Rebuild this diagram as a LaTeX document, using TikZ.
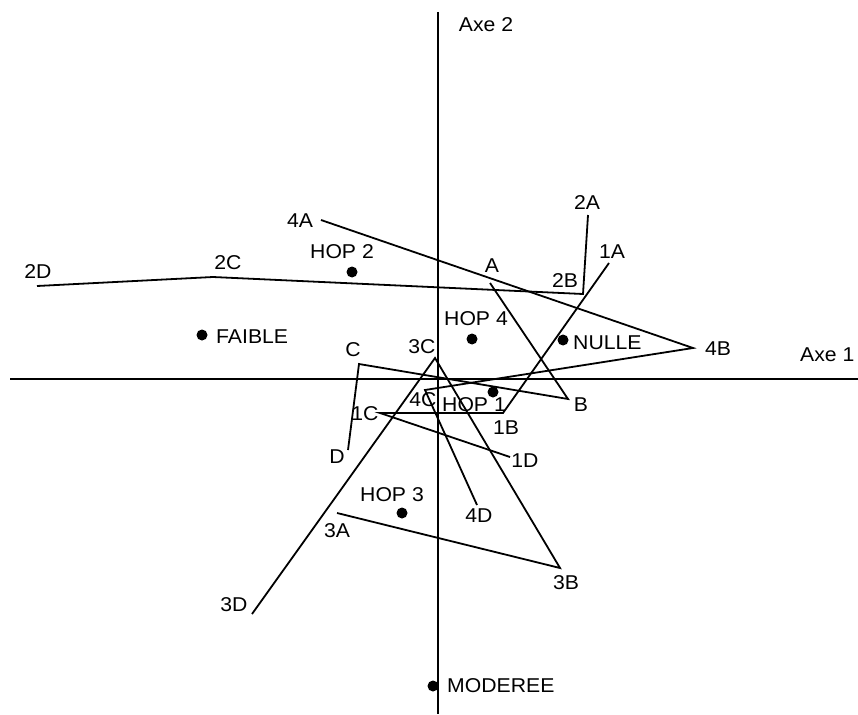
\documentclass[tikz,border=0pt]{standalone}
\usepackage{fontspec}
\setmainfont[FakeStretch=1.06]{Liberation Sans}
\begin{document}
\begin{tikzpicture}[x=1pt,y=-1pt,
  lbl/.style={inner sep=0pt,font=\fontsize{20}{22}\selectfont},
  ln/.style={line width=1.8pt,line join=miter},
  ax/.style={line width=2pt},
  dotpt/.style={circle,fill=black,inner sep=0pt,minimum size=11pt}]
\useasboundingbox[fill=white] (0,0) rectangle (858,714);
% axes
\coordinate (vt) at (438,12);
\coordinate (vb) at (438,714);
\coordinate (hl) at (10,379);
\coordinate (hr) at (858,379);
\draw[ax] (vt) -- (vb);
\draw[ax] (hl) -- (hr);
\node[lbl] (axe2) at (486,25) {Axe 2};
\node[lbl,anchor=west] (axe1) at (800,355) {Axe 1};
% path 2
\coordinate (p2D) at (37,286);
\coordinate (p2C) at (213,277);
\coordinate (p2B) at (583,294);
\coordinate (p2A) at (588,215);
\draw[ln] (p2D) -- (p2C) -- (p2B) -- (p2A);
\node[lbl] (l2D) at (38,272) {2D};
\node[lbl] (l2C) at (228,263) {2C};
\node[lbl] (l2B) at (565,281) {2B};
\node[lbl] (l2A) at (587,203) {2A};
% path 4
\coordinate (p4A) at (321,220);
\coordinate (p4B) at (693,348);
\coordinate (p4C) at (425,390);
\coordinate (p4D) at (477,505);
\draw[ln] (p4A) -- (p4B) -- (p4C) -- (p4D);
\node[lbl] (l4A) at (300,221) {4A};
\node[lbl] (l4B) at (718,349) {4B};
\node[lbl] (l4C) at (423,400) {4C};
\node[lbl] (l4D) at (479,516) {4D};
% path 1
\coordinate (p1A) at (609,263);
\coordinate (p1B) at (503,413);
\coordinate (p1C) at (380,413);
\coordinate (p1D) at (510,457);
\draw[ln] (p1A) -- (p1B) -- (p1C) -- (p1D);
\node[lbl] (l1A) at (612,252) {1A};
\node[lbl] (l1B) at (506,428) {1B};
\node[lbl] (l1C) at (365,414) {1C};
\node[lbl] (l1D) at (525,461) {1D};
% path 3
\coordinate (p3A) at (337,513);
\coordinate (p3B) at (560,568);
\coordinate (p3C) at (435,358);
\coordinate (p3D) at (252,614);
\draw[ln] (p3A) -- (p3B) -- (p3C) -- (p3D);
\node[lbl] (l3A) at (337,531) {3A};
\node[lbl] (l3B) at (566,583) {3B};
\node[lbl] (l3C) at (422,347) {3C};
\node[lbl] (l3D) at (234,605) {3D};
% path A B C D
\coordinate (pA) at (490,283);
\coordinate (pB) at (568,399);
\coordinate (pC) at (359,364);
\coordinate (pD) at (348,450);
\draw[ln] (pA) -- (pB) -- (pC) -- (pD);
\node[lbl] (lA) at (492,266) {A};
\node[lbl] (lB) at (581,405) {B};
\node[lbl] (lC) at (353,350) {C};
\node[lbl] (lD) at (337,457) {D};
% points
\node[dotpt] (hop2) at (352,272) {};
\node[lbl] (lhop2) at (342,252) {HOP 2};
\node[dotpt] (faible) at (202,335) {};
\node[lbl,anchor=west] (lfaible) at (216,337) {FAIBLE};
\node[dotpt] (hop4) at (472,339) {};
\node[lbl] (lhop4) at (476,319) {HOP 4};
\node[dotpt] (nulle) at (563,340) {};
\node[lbl,anchor=west] (lnulle) at (573,343) {NULLE};
\node[dotpt] (hop1) at (493,392) {};
\node[lbl] (lhop1) at (474,405) {HOP 1};
\node[dotpt] (hop3) at (402,513) {};
\node[lbl] (lhop3) at (392,495) {HOP 3};
\node[dotpt] (moderee) at (433,686) {};
\node[lbl,anchor=west] (lmoderee) at (447,686) {MODEREE};
\end{tikzpicture}
\end{document}
